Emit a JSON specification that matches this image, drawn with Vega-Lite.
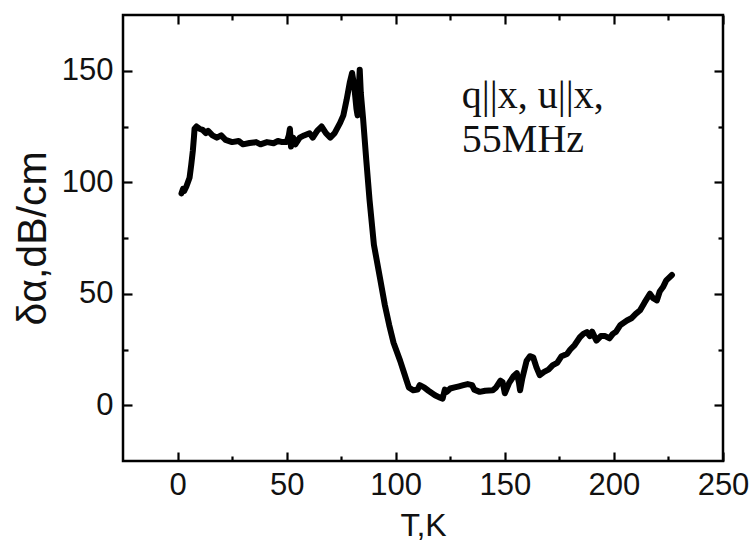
{
  "$schema": "https://vega.github.io/schema/vega-lite/v6.json",
  "width": 600,
  "height": 446,
  "autosize": "none",
  "padding": {"left": 123, "top": 15, "right": 31, "bottom": 88},
  "background": "white",
  "config": {
    "view": {"stroke": "black", "strokeWidth": 2.5},
    "axis": {
      "domain": false,
      "grid": false,
      "tickColor": "black",
      "tickWidth": 2.2,
      "labelFont": "Liberation Sans",
      "labelFontSize": 31,
      "labelColor": "#111",
      "titleFont": "Liberation Sans",
      "titleFontSize": 32,
      "titleFontWeight": "normal",
      "titleColor": "#111",
      "labelFlush": false
    }
  },
  "datasets": {
    "curve": [
      {"T": 1.8, "a": 95}, {"T": 2.5, "a": 97}, {"T": 3, "a": 96}, {"T": 4, "a": 98}, {"T": 5.5, "a": 102},
      {"T": 6.3, "a": 108}, {"T": 7, "a": 114}, {"T": 7.5, "a": 120}, {"T": 7.8, "a": 124}, {"T": 8.7, "a": 125},
      {"T": 10, "a": 124}, {"T": 11.5, "a": 123.5}, {"T": 13, "a": 122}, {"T": 14, "a": 123}, {"T": 16, "a": 121},
      {"T": 18, "a": 120}, {"T": 20, "a": 121}, {"T": 22, "a": 119}, {"T": 25, "a": 118}, {"T": 28, "a": 118.5},
      {"T": 30, "a": 117}, {"T": 33, "a": 117.6}, {"T": 36, "a": 118}, {"T": 38, "a": 117}, {"T": 41, "a": 118},
      {"T": 44, "a": 117.5}, {"T": 46, "a": 118.5}, {"T": 48, "a": 118}, {"T": 50, "a": 118}, {"T": 51, "a": 121},
      {"T": 51.5, "a": 124}, {"T": 52, "a": 116}, {"T": 53, "a": 120}, {"T": 54, "a": 117}, {"T": 56, "a": 120},
      {"T": 58, "a": 121}, {"T": 60.5, "a": 122}, {"T": 62, "a": 120}, {"T": 64, "a": 123}, {"T": 66, "a": 125},
      {"T": 68, "a": 122}, {"T": 70, "a": 120}, {"T": 72, "a": 122}, {"T": 74.5, "a": 126.6}, {"T": 76, "a": 130},
      {"T": 77.5, "a": 137}, {"T": 79, "a": 145}, {"T": 80, "a": 149}, {"T": 81, "a": 143}, {"T": 82, "a": 133},
      {"T": 82.5, "a": 130}, {"T": 83, "a": 140}, {"T": 83.5, "a": 150.5}, {"T": 84, "a": 140}, {"T": 85, "a": 129},
      {"T": 86.5, "a": 110}, {"T": 88, "a": 92}, {"T": 90, "a": 72}, {"T": 92.7, "a": 57.5}, {"T": 95, "a": 45},
      {"T": 97, "a": 36}, {"T": 99, "a": 28}, {"T": 102, "a": 20}, {"T": 104, "a": 14}, {"T": 105, "a": 11},
      {"T": 106, "a": 8}, {"T": 108, "a": 6.7}, {"T": 110, "a": 7}, {"T": 111, "a": 9}, {"T": 113, "a": 8},
      {"T": 115, "a": 6.5}, {"T": 118, "a": 4.5}, {"T": 120, "a": 3.5}, {"T": 121.5, "a": 3}, {"T": 122.5, "a": 7},
      {"T": 123.4, "a": 6}, {"T": 125, "a": 7.5}, {"T": 127, "a": 8}, {"T": 129, "a": 8.5}, {"T": 131, "a": 9},
      {"T": 133, "a": 9.5}, {"T": 135, "a": 9}, {"T": 136, "a": 7}, {"T": 138.5, "a": 6}, {"T": 141, "a": 6.5},
      {"T": 144.5, "a": 6.7}, {"T": 146, "a": 8}, {"T": 148, "a": 11}, {"T": 149, "a": 10.3}, {"T": 150, "a": 5.4},
      {"T": 152, "a": 10}, {"T": 154, "a": 13}, {"T": 155.5, "a": 14.4}, {"T": 156.5, "a": 10}, {"T": 157, "a": 6.7},
      {"T": 158, "a": 12}, {"T": 160, "a": 20}, {"T": 161.5, "a": 22}, {"T": 163, "a": 21.5}, {"T": 164.5, "a": 17},
      {"T": 166, "a": 13.5}, {"T": 168, "a": 15}, {"T": 170, "a": 16}, {"T": 172, "a": 18}, {"T": 174, "a": 19},
      {"T": 176, "a": 22}, {"T": 178.5, "a": 23}, {"T": 180, "a": 25}, {"T": 182, "a": 27}, {"T": 184.4, "a": 30.5},
      {"T": 186, "a": 32}, {"T": 187.6, "a": 32.8}, {"T": 189, "a": 31}, {"T": 190, "a": 33}, {"T": 192, "a": 29},
      {"T": 194, "a": 31}, {"T": 196, "a": 31}, {"T": 198, "a": 30}, {"T": 199.5, "a": 32}, {"T": 201, "a": 33},
      {"T": 203, "a": 36}, {"T": 206, "a": 38}, {"T": 208, "a": 39}, {"T": 210, "a": 41}, {"T": 212, "a": 42.6},
      {"T": 214, "a": 46}, {"T": 216.5, "a": 50}, {"T": 218, "a": 48}, {"T": 219.7, "a": 47}, {"T": 221, "a": 51},
      {"T": 222.5, "a": 53}, {"T": 224, "a": 56}, {"T": 226.6, "a": 58.4}
    ],
    "notes": [
      {"T": 130.3, "a": 133.4, "label": "q||x, u||x,"},
      {"T": 130.3, "a": 113.6, "label": "55MHz"}
    ]
  },
  "layer": [
    {
      "data": {"name": "curve"},
      "mark": {"type": "line", "color": "black", "strokeWidth": 6, "strokeJoin": "round", "strokeCap": "round", "clip": true},
      "encoding": {
        "x": {
          "field": "T", "type": "quantitative",
          "scale": {"domain": [-25, 250], "nice": false, "zero": false},
          "axis": {
            "orient": "bottom",
            "title": "T,K",
            "values": [0, 50, 100, 150, 200, 250],
            "offset": -9,
            "tickSize": 9,
            "labelPadding": 9,
            "titlePadding": 10
          }
        },
        "y": {
          "field": "a", "type": "quantitative",
          "scale": {"domain": [-25, 175], "nice": false, "zero": false},
          "axis": {
            "orient": "left",
            "title": "δα,dB/cm",
            "titleFontSize": 41,
            "values": [0, 50, 100, 150],
            "offset": -9,
            "tickSize": 9,
            "labelPadding": 10,
            "titlePadding": 7
          }
        }
      }
    },
    {
      "data": {"name": "curve"},
      "mark": {"type": "point", "opacity": 0},
      "encoding": {
        "x": {
          "field": "T", "type": "quantitative",
          "scale": {"domain": [-25, 250], "nice": false, "zero": false},
          "axis": {"orient": "top", "title": null, "labels": false, "values": [0, 50, 100, 150, 200, 250], "offset": -9, "tickSize": 9}
        },
        "y": {
          "field": "a", "type": "quantitative",
          "scale": {"domain": [-25, 175], "nice": false, "zero": false},
          "axis": {"orient": "right", "title": null, "labels": false, "values": [0, 50, 100, 150], "offset": -9, "tickSize": 9}
        }
      }
    },
    {
      "data": {"name": "curve"},
      "mark": {"type": "point", "opacity": 0},
      "encoding": {
        "x": {
          "field": "T", "type": "quantitative",
          "scale": {"domain": [-25, 250], "nice": false, "zero": false},
          "axis": {"orient": "bottom", "title": null, "labels": false, "values": [25, 75, 125, 175, 225], "offset": -5, "tickSize": 5}
        },
        "y": {
          "field": "a", "type": "quantitative",
          "scale": {"domain": [-25, 175], "nice": false, "zero": false},
          "axis": {"orient": "left", "title": null, "labels": false, "values": [25, 75, 125], "offset": -5, "tickSize": 5}
        }
      }
    },
    {
      "data": {"name": "curve"},
      "mark": {"type": "point", "opacity": 0},
      "encoding": {
        "x": {
          "field": "T", "type": "quantitative",
          "scale": {"domain": [-25, 250], "nice": false, "zero": false},
          "axis": {"orient": "top", "title": null, "labels": false, "values": [25, 75, 125, 175, 225], "offset": -5, "tickSize": 5}
        },
        "y": {
          "field": "a", "type": "quantitative",
          "scale": {"domain": [-25, 175], "nice": false, "zero": false},
          "axis": {"orient": "right", "title": null, "labels": false, "values": [25, 75, 125], "offset": -5, "tickSize": 5}
        }
      }
    },
    {
      "data": {"name": "notes"},
      "mark": {"type": "text", "align": "left", "baseline": "alphabetic", "font": "Liberation Serif", "fontSize": 40, "color": "#111"},
      "encoding": {
        "x": {"field": "T", "type": "quantitative", "scale": {"domain": [-25, 250], "nice": false, "zero": false}, "axis": null},
        "y": {"field": "a", "type": "quantitative", "scale": {"domain": [-25, 175], "nice": false, "zero": false}, "axis": null},
        "text": {"field": "label"}
      }
    }
  ],
  "resolve": {"axis": {"x": "independent", "y": "independent"}}
}
